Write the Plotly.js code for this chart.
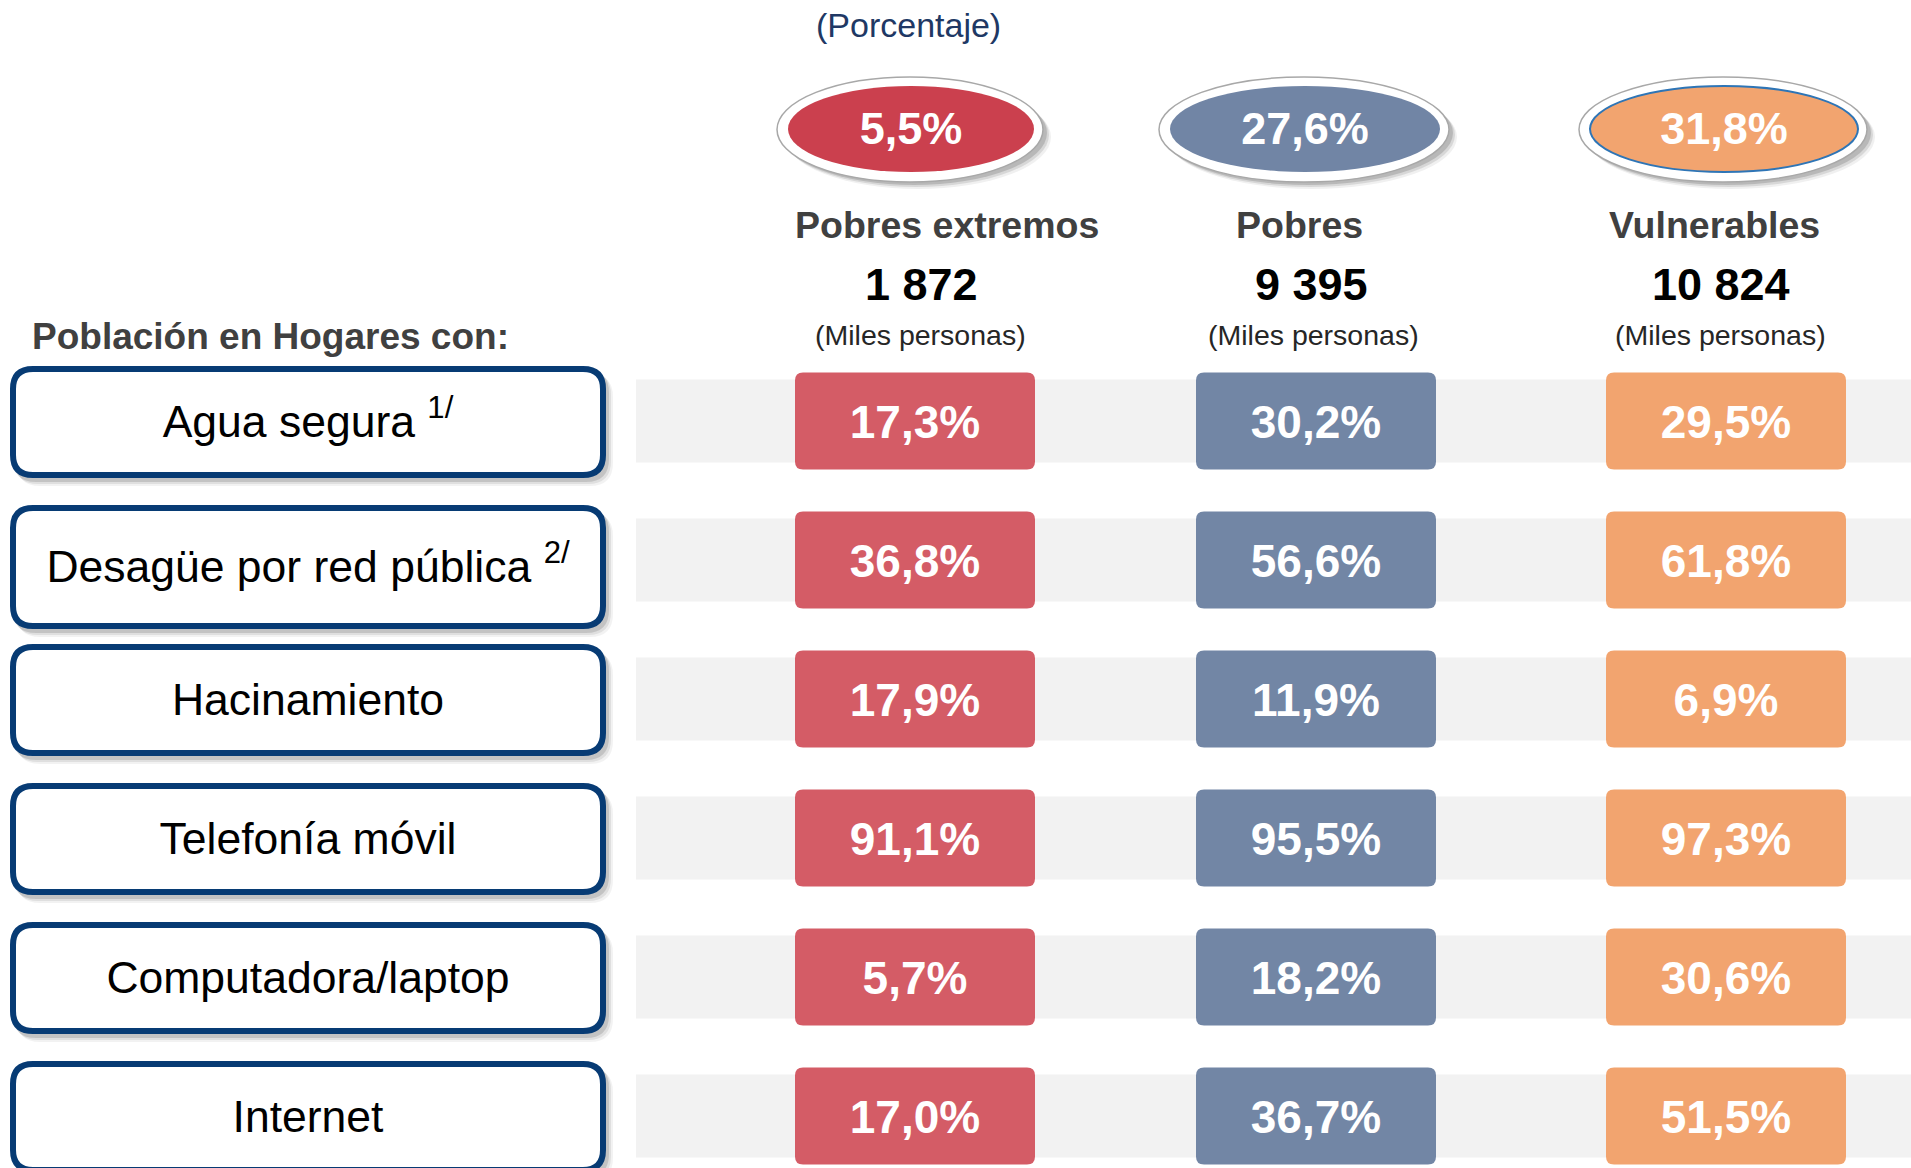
<!DOCTYPE html>
<html>
<head>
<meta charset="utf-8">
<script src="https://cdn.plot.ly/plotly-3.0.1.min.js"></script>
<style>
html,body{margin:0;padding:0;background:#ffffff;}
#chart{width:1911px;height:1168px;}
</style>
</head>
<body>
<div id="chart"></div>
<script>
// ---------------- DATA ----------------
const categories = [
  'Agua segura <sup>1/</sup>',
  'Desagüe por red pública <sup>2/</sup>',
  'Hacinamiento',
  'Telefonía móvil',
  'Computadora/laptop',
  'Internet'
];
const groups = ['Pobres extremos', 'Pobres', 'Vulnerables'];
const groupShare = [5.5, 27.6, 31.8];          // % of population
const groupPopulation = [1872, 9395, 10824];   // miles de personas
const pobresExtremos = [17.3, 36.8, 17.9, 91.1, 5.7, 17.0];
const pobres = [30.2, 56.6, 11.9, 95.5, 18.2, 36.7];
const vulnerables = [29.5, 61.8, 6.9, 97.3, 30.6, 51.5];
const seriesValues = [pobresExtremos, pobres, vulnerables];

const titleText = '(Porcentaje)';
const rowHeaderText = 'Población en Hogares con:';
const unitText = '(Miles personas)';

// ---------------- LAYOUT / STYLE ----------------
const W = 1911, H = 1168;
const ROW0 = 421, ROW_STEP = 139;
const CELL_X = [915, 1316, 1726];
const CELL_W = 240, CELL_H = 97, CELL_R = 8;
const BAND_X0 = 636, BAND_X1 = 1911, BAND_H = 83;
const LBL_X0 = 13, LBL_X1 = 603, LBL_H = 106, LBL_R = 20;
const LBL_EXTRA = [0, 12, 0, 0, 0, 0];   // extra height (downwards) of each label box
const ELL_X = [911, 1305, 1724];
const ELL_RX = [123, 135, 134];
const ELL_RY = 43, ELL_Y = 129;
const HEAD_X = [947, 1299, 1714];
const NUM_X = [921, 1311, 1721];
const UNIT_X = [920, 1313, 1720];
const TEXT_DY = 5;

const cellColors = ['#D45C66', '#7286A5', '#F2A46F'];
const ellColors = ['#CB404E', '#7185A5', '#F2A46F'];
const ellLines = ['rgba(0,0,0,0)', 'rgba(0,0,0,0)', '#2E75B6'];
const NAVY = '#073B74';
const FONT = 'Liberation Sans, Arial, sans-serif';

const fmtPct = v => v.toFixed(1).replace('.', ',') + '%';
const fmtThousands = v => String(v).replace(/\B(?=(\d{3})+(?!\d))/g, ' ');
const rowY = i => ROW0 + i * ROW_STEP;
const lblTop = i => rowY(i) + 1 - LBL_H / 2;
const lblBot = i => rowY(i) + 1 + LBL_H / 2 + LBL_EXTRA[i];

function rrect(x0, y0, x1, y1, r) {
  return `M${x0 + r},${y0} L${x1 - r},${y0} Q${x1},${y0} ${x1},${y0 + r} ` +
         `L${x1},${y1 - r} Q${x1},${y1} ${x1 - r},${y1} L${x0 + r},${y1} ` +
         `Q${x0},${y1} ${x0},${y1 - r} L${x0},${y0 + r} Q${x0},${y0} ${x0 + r},${y0} Z`;
}

const shapes = [];

// Ellipse badges (group share)
groups.forEach((g, j) => {
  const cx = ELL_X[j], rx = ELL_RX[j];
  [[7, 8, 0.06], [5, 6, 0.10], [3, 4, 0.14]].forEach(([dx, dy, a]) => {
    shapes.push({type: 'circle', xref: 'x', yref: 'y', layer: 'below',
      x0: cx - rx - 10 + dx, x1: cx + rx + 10 + dx, y0: ELL_Y - ELL_RY - 9 + dy, y1: ELL_Y + ELL_RY + 9 + dy,
      fillcolor: `rgba(0,0,0,${a})`, line: {width: 0}});
  });
  shapes.push({type: 'circle', xref: 'x', yref: 'y', layer: 'below',
    x0: cx - rx - 11, x1: cx + rx + 9, y0: ELL_Y - ELL_RY - 9, y1: ELL_Y + ELL_RY + 10,
    fillcolor: '#FFFFFF', line: {color: '#A8A8A8', width: 1.5}});
  shapes.push({type: 'circle', xref: 'x', yref: 'y', layer: 'below',
    x0: cx - rx, x1: cx + rx, y0: ELL_Y - ELL_RY, y1: ELL_Y + ELL_RY,
    fillcolor: ellColors[j], line: {color: ellLines[j], width: 2}});
});

// Rows: grey bands, label boxes, coloured cells
categories.forEach((c, i) => {
  const y = rowY(i);
  shapes.push({type: 'rect', xref: 'x', yref: 'y', layer: 'below',
    x0: BAND_X0, x1: BAND_X1, y0: y - BAND_H / 2, y1: y + BAND_H / 2,
    fillcolor: '#F2F2F2', line: {width: 0}});
  const t = lblTop(i), b = lblBot(i);
  [[7, 8, 0.05], [5, 6, 0.08], [3, 4, 0.12]].forEach(([dx, dy, a]) => {
    shapes.push({type: 'path', xref: 'x', yref: 'y', layer: 'below',
      path: rrect(LBL_X0 - 3 + dx, t - 3 + dy, LBL_X1 + 3 + dx, b + 3 + dy, LBL_R + 3),
      fillcolor: `rgba(0,0,0,${a})`, line: {width: 0}});
  });
  shapes.push({type: 'path', xref: 'x', yref: 'y', layer: 'below',
    path: rrect(LBL_X0, t, LBL_X1, b, LBL_R),
    fillcolor: '#FFFFFF', line: {color: NAVY, width: 6}});
  seriesValues.forEach((vals, j) => {
    shapes.push({type: 'path', xref: 'x', yref: 'y', layer: 'below',
      path: rrect(CELL_X[j] - CELL_W / 2, y - CELL_H / 2, CELL_X[j] + CELL_W / 2, y + CELL_H / 2, CELL_R),
      fillcolor: cellColors[j], line: {width: 0}});
  });
});

const traces = [];
// row labels
traces.push({
  type: 'scatter', mode: 'text', hoverinfo: 'skip', showlegend: false,
  x: categories.map(() => (LBL_X0 + LBL_X1) / 2),
  y: categories.map((c, i) => (lblTop(i) + lblBot(i)) / 2 + TEXT_DY - 1),
  text: categories,
  textposition: 'middle center',
  textfont: {family: FONT, size: 44.5, color: '#000000'}
});
// values
seriesValues.forEach((vals, j) => {
  traces.push({
    type: 'scatter', mode: 'text', hoverinfo: 'skip', showlegend: false,
    x: vals.map(() => CELL_X[j]),
    y: vals.map((v, i) => rowY(i) + TEXT_DY),
    text: vals.map(v => '<b>' + fmtPct(v) + '</b>'),
    textposition: 'middle center',
    textfont: {family: FONT, size: 46, color: '#FFFFFF'}
  });
});
// badge shares
traces.push({
  type: 'scatter', mode: 'text', hoverinfo: 'skip', showlegend: false,
  x: ELL_X, y: groups.map(() => ELL_Y + 4),
  text: groupShare.map(v => '<b>' + fmtPct(v) + '</b>'),
  textposition: 'middle center',
  textfont: {family: FONT, size: 45, color: '#FFFFFF'}
});

const annotations = [];
annotations.push({xref: 'x', yref: 'y', x: 908, y: 25, text: titleText, showarrow: false,
  xanchor: 'center', yanchor: 'middle', font: {family: FONT, size: 34, color: '#203864'}});
annotations.push({xref: 'x', yref: 'y', x: 30, y: 336, text: '<b>' + rowHeaderText + '</b>', showarrow: false,
  xanchor: 'left', yanchor: 'middle', font: {family: FONT, size: 37, color: '#404040'}});
groups.forEach((g, j) => {
  annotations.push({xref: 'x', yref: 'y', x: HEAD_X[j], y: 225, text: '<b>' + g + '</b>', showarrow: false,
    xanchor: 'center', yanchor: 'middle', font: {family: FONT, size: 37.5, color: '#404040'}});
  annotations.push({xref: 'x', yref: 'y', x: NUM_X[j], y: 284, text: '<b>' + fmtThousands(groupPopulation[j]) + '</b>', showarrow: false,
    xanchor: 'center', yanchor: 'middle', font: {family: FONT, size: 45, color: '#000000'}});
  annotations.push({xref: 'x', yref: 'y', x: UNIT_X[j], y: 335, text: unitText, showarrow: false,
    xanchor: 'center', yanchor: 'middle', font: {family: FONT, size: 28.5, color: '#262626'}});
});

const layout = {
  width: W, height: H,
  margin: {l: 0, r: 0, t: 0, b: 0, pad: 0},
  paper_bgcolor: '#FFFFFF', plot_bgcolor: '#FFFFFF',
  showlegend: false,
  xaxis: {range: [0, W], visible: false, fixedrange: true},
  yaxis: {range: [H, 0], visible: false, fixedrange: true},
  shapes: shapes,
  annotations: annotations
};

Plotly.newPlot('chart', traces, layout, {displayModeBar: false, staticPlot: true});
</script>
</body>
</html>
